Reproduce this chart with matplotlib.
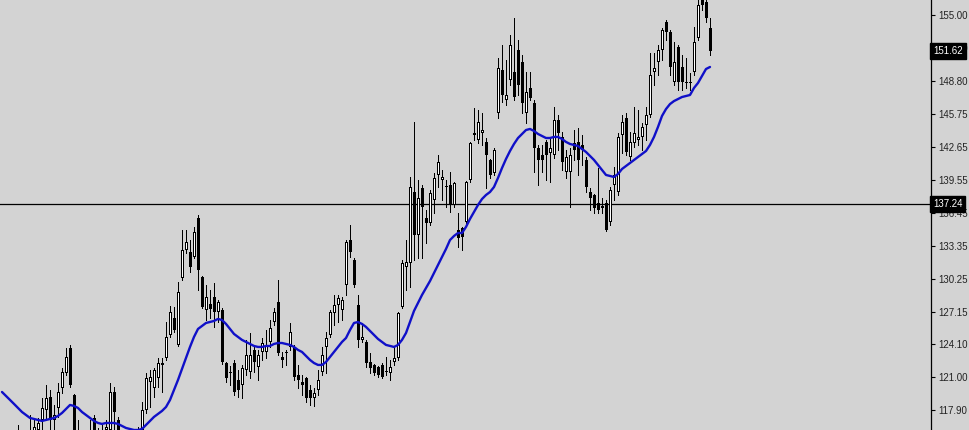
import numpy as np
import matplotlib
matplotlib.use("Agg")
import matplotlib.pyplot as plt
from matplotlib.transforms import blended_transform_factory

opens = [115.10, 115.47, 114.91, 115.28, 115.85, 115.28, 115.47, 115.10, 115.85, 116.03,
         116.97, 117.91, 119.13, 116.97, 118.10, 119.98, 121.39, 123.73, 119.32, 115.85,
         115.47, 115.10, 115.47, 117.16, 115.85, 115.47, 116.03, 116.03, 119.60, 116.97,
         115.57, 115.28, 115.10, 115.38, 115.47, 116.03, 117.91, 120.54, 119.98, 120.92,
         122.14, 122.79, 124.95, 126.55, 124.02, 130.31, 132.94, 132.75, 132.28, 135.94,
         130.40, 127.30, 127.86, 128.52, 127.11, 127.30, 122.32, 121.39, 122.32, 120.73,
         120.26, 121.67, 121.48, 123.55, 121.95, 123.36, 123.36, 124.30, 126.17, 128.05,
         122.89, 123.36, 123.83, 123.83, 121.20, 120.54, 120.92, 119.79, 119.04, 119.79,
         121.48, 123.83, 124.95, 127.02, 127.77, 127.30, 129.65, 133.87, 132.00, 127.77,
         124.49, 124.30, 122.42, 122.14, 121.95, 122.14, 121.57, 121.39, 122.42, 122.79,
         127.58, 131.34, 131.72, 138.38, 134.34, 138.76, 135.94, 135.47, 137.63, 139.98,
         139.51, 138.95, 139.04, 137.16, 134.81, 135.00, 135.57, 139.51, 143.73, 143.26,
         143.92, 143.08, 141.39, 140.17, 145.80, 149.84, 147.02, 148.90, 149.65, 151.72,
         150.59, 145.80, 148.15, 146.74, 142.51, 141.86, 143.08, 142.04, 141.86, 145.14,
         143.55, 140.26, 140.26, 142.98, 143.08, 142.80, 141.39, 138.38, 138.10, 137.35,
         136.88, 137.35, 135.57, 139.04, 138.38, 143.73, 145.33, 141.67, 142.98, 143.26,
         143.55, 144.67, 145.61, 149.65, 150.59, 151.72, 154.34, 153.41, 148.71, 152.00,
         150.12, 148.62, 148.71, 149.65, 152.84, 156.41, 156.22, 153.78]

highs = [115.85, 115.66, 115.47, 115.75, 116.50, 115.85, 115.75, 117.44, 116.97, 117.16,
         119.04, 120.26, 119.79, 118.38, 120.45, 121.86, 123.73, 124.02, 119.40, 116.97,
         116.03, 115.85, 116.97, 117.44, 116.22, 116.50, 116.97, 120.45, 120.07, 117.26,
         116.03, 115.85, 115.66, 116.03, 116.32, 118.66, 121.39, 121.67, 121.86, 122.79,
         122.79, 126.17, 127.68, 127.58, 129.93, 134.81, 134.81, 133.87, 135.10, 136.22,
         130.50, 129.65, 129.18, 129.84, 128.24, 127.49, 122.42, 122.04, 122.61, 121.67,
         122.14, 124.49, 125.14, 124.02, 123.55, 124.67, 125.42, 126.36, 127.49, 130.12,
         123.36, 123.55, 126.08, 124.02, 122.14, 121.20, 121.00, 120.26, 119.98, 121.67,
         123.83, 125.24, 127.30, 128.71, 128.71, 128.52, 133.87, 135.28, 132.18, 128.71,
         126.08, 124.49, 123.26, 122.20, 122.00, 122.32, 122.89, 122.61, 123.83, 127.11,
         132.00, 133.87, 139.79, 144.96, 139.51, 139.04, 136.69, 138.57, 140.17, 141.86,
         140.45, 139.51, 140.26, 139.30, 136.41, 135.10, 139.40, 143.10, 146.27, 146.08,
         145.80, 143.45, 141.45, 142.51, 150.96, 152.18, 150.78, 153.12, 154.72, 152.65,
         151.25, 149.65, 149.65, 147.02, 142.80, 142.80, 143.26, 143.45, 146.36, 145.61,
         144.02, 142.33, 142.51, 144.20, 144.39, 143.73, 141.67, 138.76, 138.20, 140.63,
         137.82, 137.63, 138.85, 140.73, 143.92, 145.61, 145.80, 144.02, 146.36, 146.08,
         144.86, 146.36, 151.43, 151.43, 152.18, 153.78, 154.53, 153.59, 152.47, 152.18,
         151.25, 150.96, 149.56, 153.88, 156.88, 157.16, 156.88, 154.72]

lows = [114.35, 114.16, 114.35, 114.53, 114.91, 114.63, 114.35, 114.63, 115.28, 115.47,
        116.03, 116.97, 116.03, 116.03, 117.26, 119.51, 121.20, 120.07, 115.10, 114.91,
        114.35, 114.53, 114.91, 115.10, 114.91, 115.10, 115.28, 115.85, 116.03, 115.10,
        114.63, 114.35, 114.53, 114.91, 115.10, 115.85, 117.63, 118.19, 119.13, 120.07,
        119.60, 122.61, 124.77, 125.24, 123.92, 130.12, 132.65, 130.87, 132.18, 129.18,
        127.45, 126.36, 126.55, 125.71, 126.17, 122.23, 120.54, 120.26, 119.32, 119.13,
        119.04, 121.20, 120.92, 121.48, 120.73, 122.61, 122.79, 123.83, 125.89, 123.08,
        121.95, 122.14, 123.55, 120.73, 119.98, 119.32, 118.66, 118.38, 118.29, 119.32,
        121.20, 121.39, 124.77, 125.89, 126.17, 126.36, 128.71, 132.28, 129.46, 123.83,
        124.30, 121.95, 121.39, 121.20, 121.01, 120.92, 121.20, 120.73, 122.14, 122.61,
        127.49, 129.18, 129.46, 132.00, 132.18, 132.18, 133.59, 135.28, 136.41, 138.85,
        137.63, 136.97, 136.50, 136.97, 133.22, 132.94, 135.47, 139.32, 143.26, 142.98,
        142.80, 138.76, 139.70, 139.98, 145.33, 146.83, 146.55, 148.43, 147.02, 147.49,
        145.80, 144.86, 147.02, 140.26, 139.04, 140.26, 139.51, 139.32, 141.57, 142.33,
        140.45, 139.70, 136.97, 141.39, 139.98, 140.92, 138.38, 136.69, 136.41, 136.41,
        136.41, 134.75, 135.28, 137.63, 138.10, 142.04, 141.86, 141.39, 142.61, 142.80,
        142.33, 143.26, 145.42, 148.43, 149.37, 150.78, 152.65, 149.37, 148.43, 147.96,
        147.96, 148.15, 147.96, 149.37, 152.65, 155.47, 154.34, 151.25]

closes = [115.47, 114.91, 115.28, 115.10, 115.28, 115.66, 115.10, 115.85, 116.32, 116.69,
          118.10, 119.04, 116.97, 117.44, 119.60, 121.48, 122.89, 120.26, 115.85, 115.47,
          115.10, 115.47, 115.85, 115.85, 115.47, 116.03, 116.32, 119.60, 117.72, 115.85,
          115.28, 115.10, 115.38, 115.75, 116.03, 117.91, 120.92, 121.01, 121.67, 122.32,
          122.32, 124.77, 127.11, 125.42, 128.99, 132.94, 133.69, 131.34, 134.62, 131.06,
          127.58, 128.52, 127.40, 127.11, 128.05, 122.42, 120.92, 121.48, 119.60, 119.79,
          121.86, 123.08, 123.08, 122.42, 123.08, 124.20, 124.02, 125.61, 127.11, 123.26,
          122.61, 123.26, 125.24, 121.01, 120.73, 120.26, 119.04, 119.04, 119.51, 120.73,
          123.08, 124.67, 127.11, 127.77, 128.43, 128.24, 133.69, 132.75, 129.65, 124.49,
          124.77, 122.32, 121.86, 121.39, 121.20, 121.01, 121.48, 121.95, 122.79, 127.02,
          131.72, 131.81, 138.85, 134.34, 137.82, 136.97, 135.47, 138.29, 139.70, 141.20,
          139.79, 138.85, 137.16, 139.23, 134.06, 134.16, 139.32, 142.98, 143.92, 144.96,
          144.20, 141.86, 139.98, 142.33, 150.02, 147.49, 147.49, 152.18, 147.30, 148.43,
          146.74, 147.77, 147.21, 142.51, 141.39, 141.39, 141.86, 142.51, 145.14, 143.92,
          141.20, 141.67, 141.86, 142.33, 141.39, 142.33, 138.85, 137.82, 136.88, 136.69,
          137.07, 134.81, 138.57, 139.98, 143.55, 144.96, 142.14, 143.08, 143.92, 143.55,
          144.49, 145.61, 149.37, 150.02, 151.72, 153.59, 153.41, 150.12, 150.59, 148.71,
          148.71, 148.71, 148.62, 152.47, 155.94, 155.94, 154.72, 151.62]

ma_values = [119.60, 119.23, 118.85, 118.48, 118.10, 117.72, 117.44, 117.16, 117.07, 116.97,
             116.88, 116.97, 117.07, 117.16, 117.35, 117.63, 118.01, 118.38, 118.29, 118.10,
             117.72, 117.44, 117.16, 116.88, 116.69, 116.60, 116.69, 116.69, 116.69, 116.60,
             116.41, 116.22, 116.13, 116.03, 116.03, 116.13, 116.50, 116.88, 117.26, 117.54,
             117.82, 118.19, 118.85, 119.79, 120.73, 121.76, 122.79, 123.83, 124.77, 125.52,
             125.80, 126.08, 126.17, 126.27, 126.46, 126.36, 125.99, 125.52, 125.05, 124.77,
             124.49, 124.30, 124.11, 123.92, 123.83, 123.83, 123.92, 123.92, 124.11, 124.20,
             124.20, 124.11, 124.02, 123.83, 123.55, 123.36, 122.98, 122.61, 122.32, 122.14,
             122.14, 122.42, 122.89, 123.36, 123.83, 124.30, 124.67, 125.42, 126.08, 126.17,
             125.99, 125.71, 125.33, 124.95, 124.58, 124.30, 124.02, 123.92, 123.83, 124.02,
             124.49, 125.14, 126.17, 127.21, 127.96, 128.71, 129.37, 130.02, 130.78, 131.53,
             132.28, 133.03, 133.87, 134.25, 134.53, 134.53, 135.10, 135.85, 136.50, 137.16,
             137.72, 138.10, 138.38, 138.85, 139.70, 140.63, 141.48, 142.23, 142.89, 143.45,
             143.83, 144.20, 144.30, 144.11, 143.83, 143.64, 143.45, 143.45, 143.55, 143.55,
             143.36, 143.08, 142.89, 142.80, 142.70, 142.42, 142.14, 141.76, 141.39, 140.92,
             140.45, 139.98, 139.89, 139.79, 140.07, 140.54, 140.82, 141.11, 141.39, 141.67,
             141.95, 142.23, 142.80, 143.55, 144.49, 145.52, 146.17, 146.64, 146.92, 147.11,
             147.30, 147.39, 147.49, 148.15, 148.62, 149.27, 149.93, 150.12]

tick_values = [155.00, 151.90, 148.80, 145.75, 142.65, 139.55, 136.45, 133.35,
               130.25, 127.15, 124.10, 121.00, 117.90]
hline_price = 137.24
last_price = 151.62

BG = "#d3d3d3"
W, H = 969, 430
fig = plt.figure(figsize=(W / 100, H / 100), dpi=100, facecolor=BG)
ax = fig.add_axes([0, 0, 931 / W, 1])
ax.set_facecolor(BG)

n = len(closes)
x = np.arange(n)
o = np.array(opens); c = np.array(closes)
hi = np.array(highs); lo = np.array(lows)

ax.vlines(x, lo, hi, colors="black", linewidth=0.72, antialiased=False, zorder=2)
up = c >= o
bottoms = np.minimum(o, c)
heights = np.maximum(np.abs(c - o), 0.09)
# outer body (black), 3 px wide
ax.bar(x, heights, bottom=bottoms, width=0.75, color="black", linewidth=0,
       antialiased=False, zorder=3)
# white interior for rising candles, 1 px wide
px = 0.094
inner_h = np.maximum(heights - 2 * px, 0)
ax.bar(x[up], inner_h[up], bottom=bottoms[up] + px, width=0.25, color="white",
       linewidth=0, antialiased=False, zorder=4)

ax.plot(x, ma_values, color="#1010c8", linewidth=1.7, zorder=5, solid_capstyle="round")

ax.axhline(hline_price, color="black", linewidth=0.9, zorder=1)

ax.set_xlim(-0.5, 232.25)
ax.set_ylim(116.03, 156.41)

for s in ["top", "left", "bottom"]:
    ax.spines[s].set_visible(False)
ax.spines["right"].set_color("black")
ax.spines["right"].set_linewidth(0.9)
ax.yaxis.tick_right()
ax.set_yticks(tick_values)
ax.set_yticklabels([f"{v:.2f}" for v in tick_values])
ax.tick_params(axis="y", direction="out", length=3, width=0.8, pad=2,
               labelsize=7, colors="black", labelcolor="#222222")
for lab in ax.get_yticklabels():
    lab.set_fontfamily("Liberation Sans")
ax.set_xticks([])

tr = blended_transform_factory(ax.transAxes, ax.transData)
for price in [hline_price, last_price]:
    ax.text(1.0 + 2 / 931, price, f"{price:.2f}", transform=tr, ha="left", va="center",
            fontsize=7, family="Liberation Sans", color="white", clip_on=False, zorder=10,
            bbox=dict(boxstyle="square,pad=0.3", facecolor="black", edgecolor="black"))

fig.savefig("out.png", dpi=100, facecolor=BG)
